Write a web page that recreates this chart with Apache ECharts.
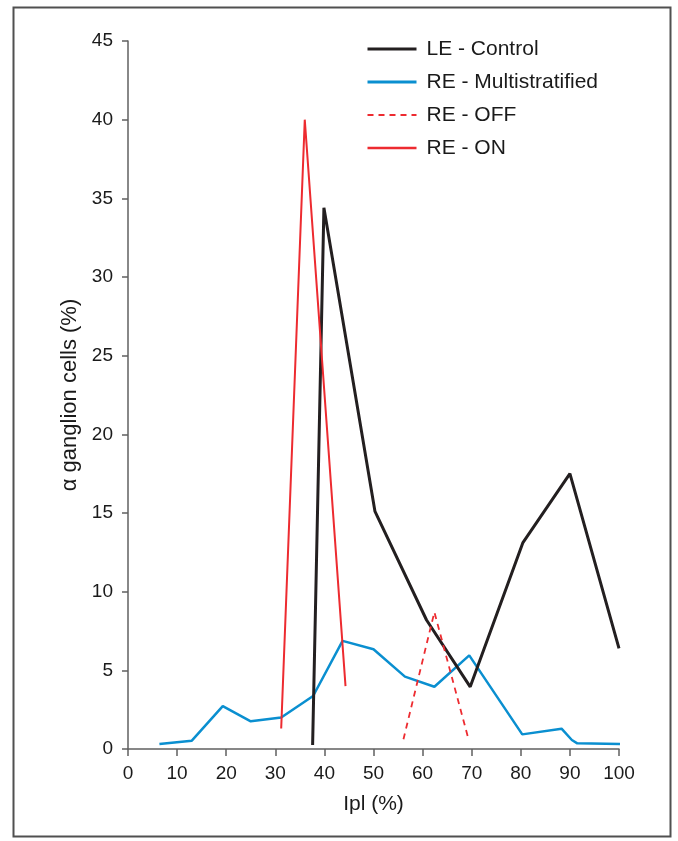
<!DOCTYPE html>
<html>
<head>
<meta charset="utf-8">
<script src="https://cdn.jsdelivr.net/npm/echarts@6/dist/echarts.min.js"></script>
<style>
html,body{margin:0;padding:0;background:#fff;}
#chart{width:678px;height:841px;}
</style>
</head>
<body>
<div id="chart"></div>
<script>
var seriesNames = ['LE - Control', 'RE - Multistratified', 'RE - OFF', 'RE - ON'];
var controlX = [37.6, 39.9, 50.3, 60.8, 69.7, 80.4, 90.0, 100];
var controlY = [0.25, 34.4, 15.1, 8.2, 3.95, 13.1, 17.5, 6.4];
var multiX = [6.4, 13.0, 19.3, 25.0, 31.2, 37.7, 43.7, 50.0, 56.4, 62.4, 69.5, 80.3, 88.3, 90.4, 90.8, 91.5, 100.2];
var multiY = [0.32, 0.53, 2.73, 1.76, 2.0, 3.37, 6.87, 6.34, 4.6, 3.96, 5.95, 0.93, 1.29, 0.57, 0.55, 0.36, 0.32];
var offX = [56.1, 62.4, 69.3];
var offY = [0.62, 8.7, 0.68];
var onX = [31.2, 36.0, 44.3];
var onY = [1.3, 40.0, 4.0];
var xTicks = [0, 10, 20, 30, 40, 50, 60, 70, 80, 90, 100];
var yTicks = [0, 5, 10, 15, 20, 25, 30, 35, 40, 45];

function zip(xs, ys) { return xs.map(function (x, i) { return [x, ys[i]]; }); }

var chart = echarts.init(document.getElementById('chart'), null, {renderer: 'canvas'});
var font = 'Liberation Sans, Arial, sans-serif';
var textColor = '#1a1a1a';
var legendWidths = [3, 3, 2, 2.5];
chart.setOption({
  animation: false,
  backgroundColor: '#fff',
  textStyle: {fontFamily: font},
  graphic: [{
    type: 'rect', left: 11, top: 5, silent: true,
    shape: {width: 657, height: 829},
    style: {fill: 'none', stroke: '#505050', lineWidth: 2}
  }],
  grid: {left: 128, right: 59, top: 41, bottom: 92},
  legend: {
    orient: 'vertical', left: 361, top: 33,
    icon: 'inherit',
    itemWidth: 49, itemHeight: 22, itemGap: 11,
    itemStyle: {opacity: 0, borderWidth: 0},
    textStyle: {fontSize: 21, lineHeight: 22, color: textColor, fontFamily: font, padding: [0, 0, 0, 5]},
    data: seriesNames.map(function (n, i) { return {name: n, lineStyle: {width: legendWidths[i]}}; })
  },
  xAxis: {
    type: 'value', min: xTicks[0], max: xTicks[xTicks.length - 1], interval: 10,
    name: 'Ipl (%)', nameLocation: 'middle', nameGap: 45,
    nameTextStyle: {fontSize: 21, color: textColor, fontFamily: font},
    axisLine: {lineStyle: {color: '#606060', width: 1.5}},
    axisTick: {length: 7, lineStyle: {color: '#606060', width: 1.5}},
    axisLabel: {fontSize: 19, color: textColor, margin: 15, fontFamily: font},
    splitLine: {show: false}
  },
  yAxis: {
    type: 'value', min: yTicks[0], max: yTicks[yTicks.length - 1], interval: 5,
    name: 'α ganglion cells (%)', nameLocation: 'middle', nameGap: 40,
    nameTextStyle: {fontSize: 22, color: textColor, fontFamily: font},
    axisLine: {show: true, lineStyle: {color: '#606060', width: 1.5}},
    axisTick: {show: true, length: 6, lineStyle: {color: '#606060', width: 1.5}},
    axisLabel: {fontSize: 19, color: textColor, margin: 15, fontFamily: font},
    splitLine: {show: false}
  },
  series: [
    {name: seriesNames[0], type: 'line', symbol: 'none', data: zip(controlX, controlY),
     lineStyle: {color: '#231f20', width: 3}, itemStyle: {color: '#231f20'}, z: 3},
    {name: seriesNames[1], type: 'line', symbol: 'none', data: zip(multiX, multiY),
     lineStyle: {color: '#0a8fd0', width: 2.5}, itemStyle: {color: '#0a8fd0'}, z: 2},
    {name: seriesNames[2], type: 'line', symbol: 'none', data: zip(offX, offY),
     lineStyle: {color: '#ed2b30', width: 1.8, type: [6, 5]}, itemStyle: {color: '#ed2b30'}, z: 4},
    {name: seriesNames[3], type: 'line', symbol: 'none', data: zip(onX, onY),
     lineStyle: {color: '#ed2b30', width: 2}, itemStyle: {color: '#ed2b30'}, z: 4}
  ]
});
</script>
</body>
</html>
